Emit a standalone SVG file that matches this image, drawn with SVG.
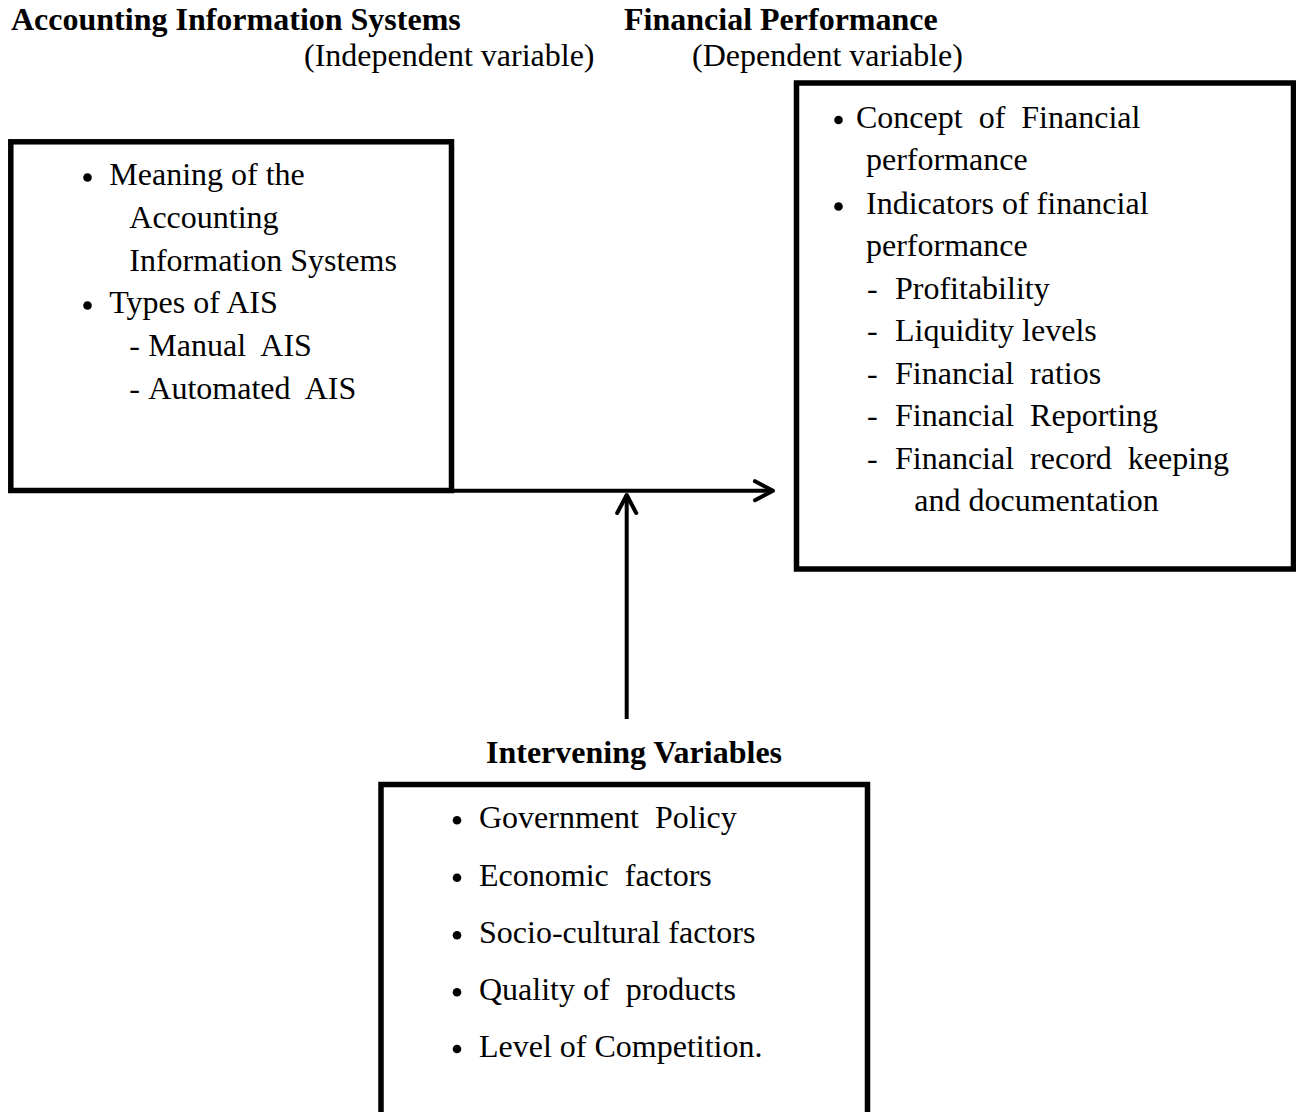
<svg xmlns="http://www.w3.org/2000/svg" width="1296" height="1112" viewBox="0 0 1296 1112">
  <style>
    text { font-family: "Liberation Serif", "Times New Roman", serif; font-size: 32px; fill: #000; }
    .b { font-weight: bold; }
    .box { fill: none; stroke: #000; stroke-width: 5.5; }
    .conn { fill: none; stroke: #000; stroke-width: 4; }
    .dot { fill: #000; }
  </style>
  <defs>
    <marker id="chev" viewBox="-25 -15 30 30" markerWidth="30" markerHeight="30" refX="0" refY="0" orient="auto" markerUnits="userSpaceOnUse">
      <path d="M-18,-9.5 L0,0 L-18,9.5" fill="none" stroke="#000" stroke-width="4" stroke-linecap="round" stroke-linejoin="round"/>
    </marker>
  </defs>
  <rect width="1296" height="1112" fill="#fff"/>

  <g id="headers">
    <text class="b" x="11" y="30">Accounting Information Systems</text>
    <text x="304" y="66">(Independent variable)</text>
    <text class="b" x="624" y="30">Financial Performance</text>
    <text x="692" y="66">(Dependent variable)</text>
  </g>

  <g id="node-ais">
    <rect class="box" x="10.8" y="141.8" width="440.7" height="348.7"/>
    <circle class="dot" cx="87.5" cy="177.5" r="4.3"/>
    <text x="109.3" y="185.3">Meaning of the</text>
    <text x="129.3" y="228">Accounting</text>
    <text x="129.3" y="270.5">Information Systems</text>
    <circle class="dot" cx="87.5" cy="305.5" r="4.3"/>
    <text x="109.3" y="313.2">Types of AIS</text>
    <text x="129.3" y="356">-<tspan x="148.3">Manual&#160; AIS</tspan></text>
    <text x="129.3" y="398.6">-<tspan x="148.3">Automated&#160; AIS</tspan></text>
  </g>

  <g id="node-fp">
    <rect class="box" x="796.5" y="83" width="497" height="486"/>
    <circle class="dot" cx="838.5" cy="120" r="4.3"/>
    <text x="856" y="127.5">Concept&#160; of&#160; Financial</text>
    <text x="866" y="170">performance</text>
    <circle class="dot" cx="838.5" cy="206.5" r="4.3"/>
    <text x="866" y="213.5">Indicators of financial</text>
    <text x="866" y="256">performance</text>
    <text x="867" y="298.5">-<tspan x="895">Profitability</tspan></text>
    <text x="867" y="341">-<tspan x="895">Liquidity levels</tspan></text>
    <text x="867" y="383.5">-<tspan x="895">Financial&#160; ratios</tspan></text>
    <text x="867" y="426">-<tspan x="895">Financial&#160; Reporting</tspan></text>
    <text x="867" y="468.7">-<tspan x="895">Financial&#160; record&#160; keeping</tspan></text>
    <text x="914.3" y="511.3">and documentation</text>
  </g>

  <g id="node-intervening">
    <text class="b" x="486" y="763">Intervening Variables</text>
    <path class="box" d="M381,1120 V784.5 H867.5 V1120"/>
    <circle class="dot" cx="457" cy="820.3" r="4.3"/>
    <text x="479" y="828">Government&#160; Policy</text>
    <circle class="dot" cx="457" cy="877.8" r="4.3"/>
    <text x="479" y="885.5">Economic&#160; factors</text>
    <circle class="dot" cx="457" cy="935.3" r="4.3"/>
    <text x="479" y="943">Socio-cultural factors</text>
    <circle class="dot" cx="457" cy="992.3" r="4.3"/>
    <text x="479" y="1000">Quality of&#160; products</text>
    <circle class="dot" cx="457" cy="1049" r="4.3"/>
    <text x="479" y="1056.7">Level of Competition.</text>
  </g>

  <g id="connectors">
    <path class="conn" d="M451.5,490.7 H773" marker-end="url(#chev)"/>
    <path class="conn" d="M626.7,719 V495" marker-end="url(#chev)"/>
  </g>
</svg>
